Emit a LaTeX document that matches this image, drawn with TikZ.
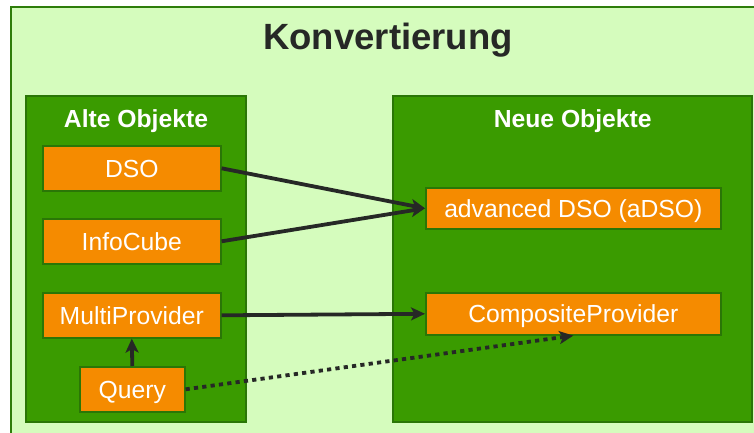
\documentclass[tikz,border=0pt]{standalone}
\usepackage{fontspec}
\setmainfont{Liberation Sans}
\usetikzlibrary{arrows.meta}
\definecolor{bgg}{RGB}{213,252,189}
\definecolor{frameg}{RGB}{46,125,10}
\definecolor{boxg}{RGB}{58,155,0}
\definecolor{boxb}{RGB}{42,118,6}
\definecolor{org}{RGB}{245,139,0}
\definecolor{ink}{RGB}{38,40,38}
\begin{document}
\begin{tikzpicture}[x=1pt,y=-1pt,
  group/.style={fill=boxg,draw=boxb,line width=2pt},
  obj/.style={fill=org,draw=boxb,line width=1.6pt,anchor=north west,inner sep=0pt,
    text=white,font=\fontsize{24.7}{28}\selectfont,text height=17.7pt,text depth=0pt},
  grouptitle/.style={text=white,font=\fontsize{24.7}{28}\selectfont\bfseries,
    text height=17.7pt,text depth=0pt,inner sep=0pt},
  arr/.style={draw=ink,line width=3.8pt,-{Stealth[length=14pt,width=13pt,inset=3.5pt]}},
  dotarr/.style={arr,dash pattern=on 4.2pt off 4.2pt}
]
\useasboundingbox[fill=white] (0,0) rectangle (754,432);
\fill[bgg,draw=frameg,line width=2pt] (11,7) rectangle (780,460);
\node[text=ink,font=\fontsize{36.5}{40}\selectfont\bfseries,text height=26pt,text depth=0pt,inner sep=0pt] (title) at (388,36.3) {Konvertierung};

\draw[group] (26,96) rectangle (246,422);
\draw[group] (393,96) rectangle (752,422);
\node[grouptitle] (alt) at (136,119) {Alte Objekte};
\node[grouptitle] (neu) at (572.7,119) {Neue Objekte};

\node[obj,minimum width=178pt,minimum height=45pt] (dso) at (42,145) {DSO};
\node[obj,minimum width=178pt,minimum height=45pt] (cube) at (42,218) {InfoCube};
\node[obj,minimum width=178pt,minimum height=45pt] (multi) at (42,292) {MultiProvider};
\node[obj,minimum width=105pt,minimum height=45pt] (query) at (79,366) {Query};
\node[obj,minimum width=295pt,minimum height=41pt] (adso) at (425,187) {advanced DSO (aDSO)};
\node[obj,minimum width=295pt,minimum height=42pt] (comp) at (425,292) {CompositeProvider};

\draw[arr] (dso.east) -- (adso.west);
\draw[arr] (cube.east) -- (adso.west);
\draw[arr] (multi.east) -- (comp.west);
\draw[arr] (query.north) -- (multi.south);
\draw[dotarr] (query.east) -- (comp.south);
\end{tikzpicture}
\end{document}
